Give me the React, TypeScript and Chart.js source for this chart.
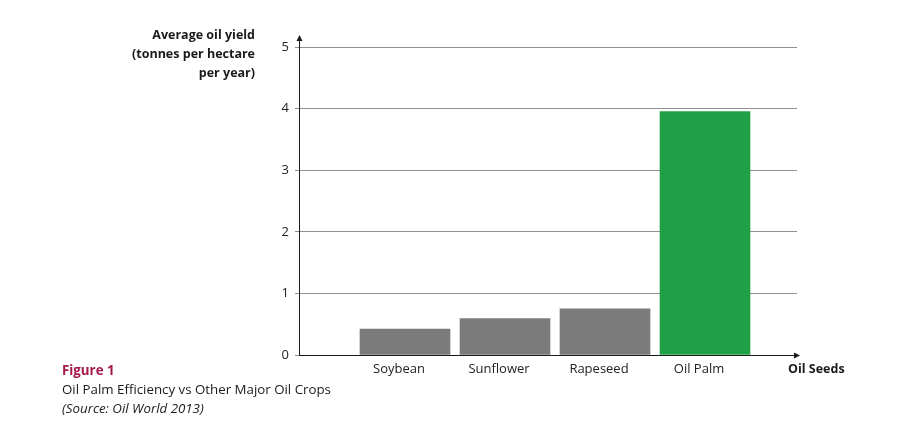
import React, { useEffect, useRef } from "react";
import { Chart, registerables } from "chart.js";

Chart.register(...registerables);

const categories = ["Soybean", "Sunflower", "Rapeseed", "Oil Palm"];
const yieldValues = [0.42, 0.59, 0.75, 3.95];
const barColors = ["#7b7b7b", "#7b7b7b", "#7b7b7b", "#20a046"];
const yTickValues = [0, 1, 2, 3, 4, 5];
const yTitleLines = ["Average oil yield", "(tonnes per hectare", "per year)"];
const xTitle = "Oil Seeds";

const FONT = "'Open Sans', 'Noto Sans', sans-serif";

const axisPlugin = {
  id: "axisArrows",
  afterDraw(chart: any) {
    const { ctx, chartArea } = chart;
    const x0 = chartArea.left;
    const y0 = chartArea.bottom;
    ctx.save();
    ctx.strokeStyle = "#1a1a1a";
    ctx.fillStyle = "#1a1a1a";
    ctx.lineWidth = 1;
    // y axis
    ctx.beginPath();
    ctx.moveTo(x0 + 0.5, y0);
    ctx.lineTo(x0 + 0.5, chartArea.top - 8);
    ctx.stroke();
    ctx.beginPath();
    ctx.moveTo(x0 + 0.5, chartArea.top - 12);
    ctx.lineTo(x0 - 2.5, chartArea.top - 6);
    ctx.lineTo(x0 + 3.5, chartArea.top - 6);
    ctx.closePath();
    ctx.fill();
    // x axis
    ctx.beginPath();
    ctx.moveTo(x0, y0 + 0.5);
    ctx.lineTo(chartArea.right - 2, y0 + 0.5);
    ctx.stroke();
    ctx.beginPath();
    ctx.moveTo(chartArea.right + 3, y0 + 0.5);
    ctx.lineTo(chartArea.right - 3, y0 - 2.5);
    ctx.lineTo(chartArea.right - 3, y0 + 3.5);
    ctx.closePath();
    ctx.fill();
    // y title
    ctx.font = `bold 12.5px ${FONT}`;
    ctx.textAlign = "right";
    ctx.textBaseline = "middle";
    ctx.fillStyle = "#1a1a1a";
    yTitleLines.forEach((line, i) => {
      ctx.fillText(line, 255, 35 + i * 19);
    });
    // x title
    ctx.textAlign = "left";
    ctx.fillText(xTitle, 788, 369);
    ctx.restore();
  },
};

export default function App() {
  const ref = useRef<HTMLCanvasElement | null>(null);

  useEffect(() => {
    if (!ref.current) return;
    const chart = new Chart(ref.current, {
      type: "bar",
      data: {
        datasets: [
          {
            data: categories.map((c, i) => ({ x: i + 1, y: yieldValues[i] })),
            backgroundColor: barColors,
            borderWidth: 0,
            barThickness: 90,
          },
        ],
      },
      options: {
        animation: false,
        responsive: false,
        events: [],
        layout: { padding: { left: 0, right: 121, top: 47, bottom: 0 } },
        plugins: { legend: { display: false }, tooltip: { enabled: false } },
        scales: {
          x: {
            type: "linear",
            offset: false,
            min: -0.06,
            max: 4.92,
            grid: { display: false, drawTicks: false },
            border: { display: false },
            afterBuildTicks(scale: any) {
              scale.ticks = categories.map((_, i) => ({ value: i + 1 }));
            },
            afterFit(scale: any) {
              scale.height = 87;
            },
            ticks: {
              autoSkip: false,
              maxRotation: 0,
              padding: 6,
              labelOffset: -6,
              color: "#222",
              font: { family: FONT, size: 13 },
              callback: (v: any) => categories[Number(v) - 1] ?? "",
            },
          },
          y: {
            min: 0,
            max: 5,
            afterBuildTicks(scale: any) {
              scale.ticks = yTickValues.map((v) => ({ value: v }));
            },
            afterFit(scale: any) {
              scale.width = 299;
            },
            border: { display: false },
            grid: {
              color: "#8f8f8f",
              lineWidth: 1,
              tickLength: 4,
              drawTicks: true,
            },
            ticks: {
              padding: 6,
              color: "#222",
              font: { family: FONT, size: 13 },
            },
          },
        },
      },
      plugins: [axisPlugin],
    });
    return () => chart.destroy();
  }, []);

  return (
    <div style={{ position: "fixed", left: 0, top: 0, width: 918, height: 442, background: "#fff" }}>
      <canvas ref={ref} width={918} height={442} style={{ position: "absolute", left: 0, top: 0 }} />
      <div
        style={{
          position: "absolute",
          left: 62,
          top: 361,
          fontFamily: FONT,
          fontSize: 13.3,
          lineHeight: "19px",
          color: "#1a1a1a",
        }}
      >
        <div style={{ color: "#a3174a", fontWeight: "bold" }}>Figure 1</div>
        <div>Oil Palm Efficiency vs Other Major Oil Crops</div>
        <div style={{ fontStyle: "italic" }}>(Source: Oil World 2013)</div>
      </div>
    </div>
  );
}
